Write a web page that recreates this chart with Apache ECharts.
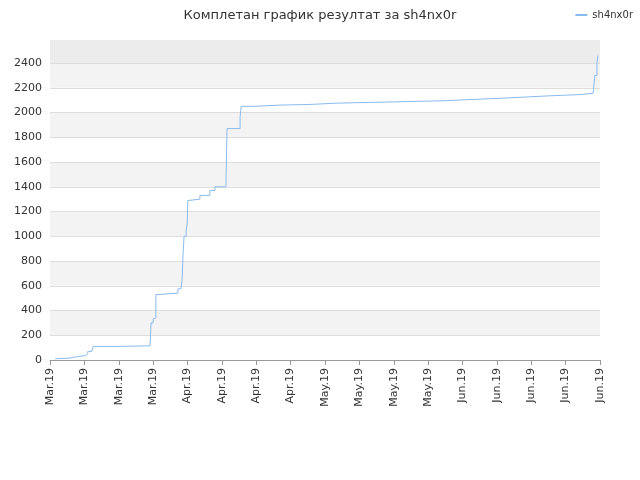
<!DOCTYPE html>
<html><head><meta charset="utf-8">
<script src="https://cdn.jsdelivr.net/npm/echarts@6/dist/echarts.min.js"></script>
<style>html,body{margin:0;padding:0;background:#fff}#c{width:640px;height:480px}</style>
</head><body><div id="c"></div>
<script>
const tickLabels = ["Mar.19","Mar.19","Mar.19","Mar.19","Apr.19","Apr.19","Apr.19","Apr.19","May.19","May.19","May.19","May.19","Jun.19","Jun.19","Jun.19","Jun.19","Jun.19"];
const xPos = [0.15,0.2,0.58,0.64,0.87,1.02,1.1,1.22,1.25,2.04,2.09,2.91,2.94,3.0,3.05,3.08,3.2,3.72,3.81,3.84,3.87,3.9,3.96,3.99,4.01,4.07,4.36,4.65,4.8,5.12,5.15,5.53,5.56,5.96,5.99,6.69,7.56,8.29,9.02,9.89,10.62,11.49,12.22,13.09,13.82,14.55,15.42,15.8,15.85,15.91,15.94];
const scores = [10,15,20,30,35,50,70,75,110,110,115,115,300,330,340,530,540,575,590,640,850,1000,1050,1100,1290,1300,1330,1370,1400,1450,1870,1960,2050,2055,2060,2065,2075,2080,2085,2090,2095,2105,2115,2125,2135,2145,2155,2155,2300,2400,2460];
const chart = echarts.init(document.getElementById('c'));
chart.setOption({
  animation:false,
  title:{text:'Комплетан график резултат за sh4nx0r',left:'center',top:4,textStyle:{fontSize:13,fontWeight:'normal',color:'#333',fontFamily:'DejaVu Sans'}},
  legend:{right:2,top:5,itemWidth:12,itemHeight:2,itemGap:6,icon:'rect',textStyle:{fontSize:10,color:'#333',fontFamily:'DejaVu Sans'},data:['sh4nx0r']},
  grid:{left:50,right:40,top:40,bottom:120},
  xAxis:{type:'value',min:0,max:16,interval:1,
    axisLine:{lineStyle:{color:'#999'}},axisTick:{show:true,lineStyle:{color:'#999'}},
    splitLine:{show:false},
    axisLabel:{rotate:90,fontSize:11,color:'#333',fontFamily:'DejaVu Sans',formatter:v=>tickLabels[Math.round(v)]||''}},
  yAxis:{type:'value',min:0,max:2586,interval:200,
    axisLine:{show:false},axisTick:{show:false},
    axisLabel:{fontSize:11,color:'#333',fontFamily:'DejaVu Sans',showMaxLabel:false,formatter:v=>String(v)},
    splitLine:{lineStyle:{color:'#ddd'}},
    splitArea:{show:true,areaStyle:{color:['#ffffff','#f3f3f3']}}},
  series:[{name:'sh4nx0r',type:'line',showSymbol:false,step:'end',
    data:xPos.map((x,i)=>[x,scores[i]]),
    lineStyle:{color:'#88bbee',width:1},itemStyle:{color:'#88bbee'},
    markArea:{silent:true,itemStyle:{color:'#ececec'},data:[[{yAxis:2400},{yAxis:2586}]]}}]
});
</script></body></html>
